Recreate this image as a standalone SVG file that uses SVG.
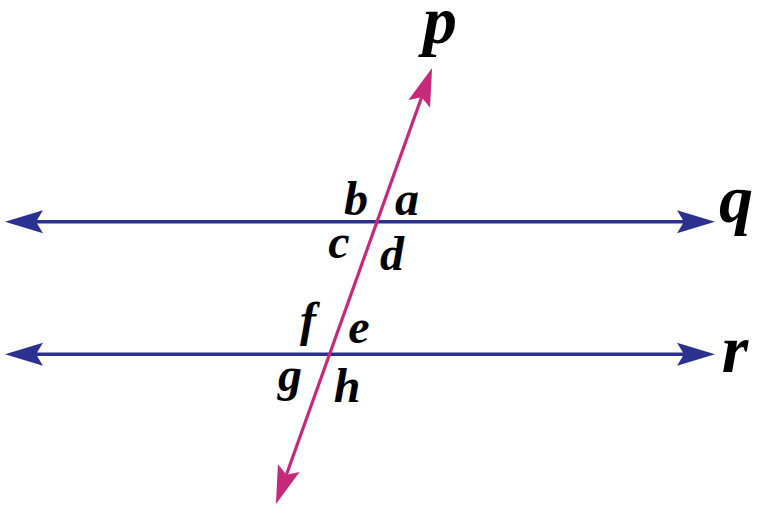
<svg xmlns="http://www.w3.org/2000/svg" width="768" height="516" viewBox="0 0 768 516">
  <style>
    .lbl { font-family: "Liberation Serif", "Times New Roman", serif; font-weight: bold; font-style: italic; fill: #000; text-anchor: middle; }
    .small { font-size: 48px; }
    .big { font-size: 68px; }
    .blue { stroke: #2B3190; stroke-width: 3.4; fill: none; }
    .mag { stroke: #C8287A; stroke-width: 3.2; fill: none; }
  </style>
  <defs>
    <marker id="arrBlue" markerUnits="userSpaceOnUse" markerWidth="40" markerHeight="30" refX="0" refY="0" orient="auto-start-reverse" overflow="visible">
      <path d="M31,0 L-7,-11.5 L0,0 L-7,11.5 Z" fill="#2B3190"/>
    </marker>
    <marker id="arrMag" markerUnits="userSpaceOnUse" markerWidth="40" markerHeight="30" refX="0" refY="0" orient="auto-start-reverse" overflow="visible">
      <path d="M31,0 L-7,-11.5 L0,0 L-7,11.5 Z" fill="#C8287A"/>
    </marker>
  </defs>
  <rect width="768" height="516" fill="#fff"/>
  <g id="connectors">
    <line id="line-q" class="blue" x1="36" y1="221.7" x2="684" y2="221.7" marker-start="url(#arrBlue)" marker-end="url(#arrBlue)"/>
    <line id="line-r" class="blue" x1="36" y1="354.3" x2="684" y2="354.3" marker-start="url(#arrBlue)" marker-end="url(#arrBlue)"/>
    <line id="line-p" class="mag" x1="286.4" y1="474.8" x2="421.6" y2="97.2" marker-start="url(#arrMag)" marker-end="url(#arrMag)"/>
  </g>
  <g id="label-p"><text class="lbl big" x="440" y="43">p</text></g>
  <g id="label-q"><text class="lbl big" x="736" y="222">q</text></g>
  <g id="label-r"><text class="lbl big" x="735" y="372">r</text></g>
  <g id="angle-a"><text class="lbl small" x="407" y="215">a</text></g>
  <g id="angle-b"><text class="lbl small" x="356" y="215">b</text></g>
  <g id="angle-c"><text class="lbl small" x="339" y="258">c</text></g>
  <g id="angle-d"><text class="lbl small" x="392" y="270">d</text></g>
  <g id="angle-e"><text class="lbl small" x="359" y="343">e</text></g>
  <g id="angle-f"><text class="lbl small" x="308" y="336">f</text></g>
  <g id="angle-g"><text class="lbl small" x="290" y="391">g</text></g>
  <g id="angle-h"><text class="lbl small" x="347" y="402">h</text></g>
</svg>
